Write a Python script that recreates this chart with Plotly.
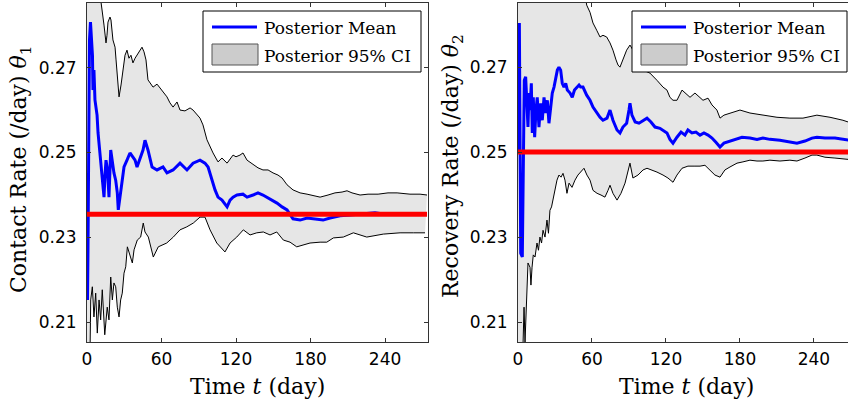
import plotly.graph_objects as go

# ---------------- data ----------------
TICK_DAYS = [0, 60, 120, 180, 240]
TICK_RATES = [0.21, 0.23, 0.25, 0.27]
TRUE_THETA1 = 0.2355
TRUE_THETA2 = 0.25

# Left panel: contact rate theta_1
L_UP_DAY = [0, 6.4, 10.5, 11.3, 13.7, 15.3, 16.1, 16.9, 18.5, 19.3, 20.9, 22.6, 23.4, 25.0, 25.8, 27.4,
            29.0, 30.6, 32.2, 33.8, 35.4, 37.0, 38.7, 40.3, 42.7, 44.3, 45.9, 47.5, 49.1, 53.2, 56.4,
            58.8, 61.2, 64.4, 66.8, 69.3, 72.5, 74.9, 78.9, 83.0, 85.4, 88.6, 91.0, 93.4, 96.6, 101.5,
            105.5, 108.7, 112.8, 117.6, 120.0, 123.2, 125.6, 128.9, 133.7, 137.7, 141.7, 145.8, 149.8,
            153.8, 157.1, 161.1, 165.9, 171.6, 177.2, 183.6, 187.7, 194.1, 199.7, 205.4, 209.4, 213.4,
            219.9, 226.3, 234.4, 242.4, 249.7, 260.1, 268.2, 273.8]
L_UP_VAL = [0.34, 0.33, 0.30, 0.2854, 0.2800, 0.2758, 0.2776, 0.2807, 0.2819, 0.2812, 0.2765, 0.2748,
            0.2718, 0.2647, 0.2631, 0.2659, 0.2689, 0.2729, 0.2741, 0.2722, 0.2729, 0.2711, 0.2722,
            0.2729, 0.2741, 0.2748, 0.2737, 0.2718, 0.2671, 0.2654, 0.2661, 0.2652, 0.2642, 0.2631,
            0.2617, 0.2607, 0.2619, 0.2600, 0.2598, 0.2605, 0.2600, 0.2588, 0.2581, 0.2565, 0.2530,
            0.2499, 0.2478, 0.2487, 0.2475, 0.2494, 0.2490, 0.2494, 0.2499, 0.2482, 0.2471, 0.2464,
            0.2459, 0.2459, 0.2452, 0.2447, 0.2440, 0.2424, 0.2412, 0.2405, 0.2402, 0.2398, 0.2395,
            0.2400, 0.2405, 0.2407, 0.2410, 0.2405, 0.2400, 0.2402, 0.2402, 0.2405, 0.2405, 0.2402,
            0.2402, 0.2400]

L_LO_DAY = [0, 1.6, 3.0, 4.3, 5.6, 7.0, 8.3, 9.7, 11.0, 12.3, 13.7, 14.3, 16.3, 17.7, 19.1, 20.4, 21.7,
            23.1, 24.4, 25.8, 27.1, 28.4, 29.8, 31.2, 32.5, 35.2, 36.5, 37.9, 40.5, 43.2, 45.3, 46.7,
            49.4, 53.4, 57.4, 64.2, 69.5, 74.9, 80.3, 85.6, 91.0, 95.0, 99.1, 104.5, 111.1, 115.2,
            120.6, 125.9, 131.3, 136.7, 142.0, 147.4, 152.8, 158.1, 163.5, 168.9, 174.2, 179.6, 187.7,
            193.1, 198.4, 206.4, 214.5, 225.3, 238.6, 252.1, 262.8, 272.2]
L_LO_VAL = [0.15, 0.19, 0.2153, 0.2184, 0.2113, 0.2169, 0.2075, 0.2153, 0.2106, 0.2177, 0.2082, 0.2071,
            0.2136, 0.2106, 0.2207, 0.2153, 0.2193, 0.2184, 0.2136, 0.2113, 0.2153, 0.2169, 0.2216,
            0.2231, 0.2278, 0.2254, 0.2240, 0.2271, 0.2294, 0.2301, 0.2334, 0.2313, 0.2301, 0.2254,
            0.2278, 0.2287, 0.2301, 0.2318, 0.2325, 0.2334, 0.2348, 0.2348, 0.2318, 0.2287, 0.2266,
            0.2287, 0.2301, 0.2318, 0.2306, 0.2311, 0.2313, 0.2306, 0.2313, 0.2294, 0.2289, 0.2278,
            0.2282, 0.2287, 0.2289, 0.2289, 0.2299, 0.2301, 0.2311, 0.2301, 0.2308, 0.2311, 0.2311,
            0.2311]

L_MEAN_DAY = [0, 0.4, 0.8, 1.2, 2.0, 2.8, 3.6, 4.4, 4.8, 5.6, 6.4, 7.2, 8.1, 8.9, 10.5, 11.3, 12.1, 13.7,
              14.5, 15.3, 16.5, 17.7, 19.1, 20.1, 21.7, 23.1, 24.4, 25.2, 27.1, 28.4, 29.8, 32.2, 34.6,
              37.0, 38.7, 40.3, 42.7, 45.1, 46.7, 49.1, 52.4, 56.4, 61.2, 64.4, 69.3, 74.9, 80.5, 85.4,
              91.0, 95.0, 97.5, 100.7, 103.1, 105.5, 108.7, 112.8, 115.2, 117.6, 120.8, 125.6, 128.9,
              133.7, 137.7, 141.7, 145.0, 149.0, 153.0, 157.1, 161.1, 165.9, 171.6, 177.2, 183.6, 190.1,
              195.7, 203.8, 211.8, 219.9, 226.3, 231.9, 240.0, 252.1, 264.2, 273.8]
L_MEAN_VAL = [0.2260, 0.2153, 0.2270, 0.2577, 0.2765, 0.2807, 0.2777, 0.2729, 0.2647, 0.2694, 0.2624,
              0.2607, 0.2588, 0.2546, 0.2499, 0.2471, 0.2435, 0.2395, 0.2447, 0.2482, 0.2459, 0.2395,
              0.2506, 0.2482, 0.2452, 0.2435, 0.2405, 0.2365, 0.2412, 0.2442, 0.2466, 0.2482, 0.2499,
              0.2489, 0.2482, 0.2466, 0.2489, 0.2506, 0.2529, 0.2506, 0.2466, 0.2459, 0.2466, 0.2452,
              0.2459, 0.2475, 0.2459, 0.2475, 0.2482, 0.2475, 0.2466, 0.2435, 0.2412, 0.2395, 0.2388,
              0.2372, 0.2388, 0.2395, 0.2400, 0.2402, 0.2395, 0.2400, 0.2405, 0.2400, 0.2395, 0.2388,
              0.2381, 0.2372, 0.2365, 0.2344, 0.2341, 0.2346, 0.2344, 0.2341, 0.2346, 0.2351, 0.2353,
              0.2355, 0.2355, 0.2358, 0.2355, 0.2355, 0.2355, 0.2355]

# Right panel: recovery rate theta_2
R_UP_DAY = [0, 17.8, 34.1, 50.3, 55.7, 58.4, 60.8, 63.8, 66.5, 68.9, 71.9, 74.6, 77.0, 79.5, 81.1, 82.7,
            84.3, 88.1, 90.8, 95.7, 101.4, 107.0, 112.7, 117.6, 120.8, 123.2, 125.7, 128.9, 133.0,
            137.0, 139.5, 143.5, 147.6, 150.0, 154.1, 157.3, 161.3, 163.8, 167.0, 171.9, 180.0, 188.1,
            198.6, 210.0, 220.5, 231.1, 242.4, 253.0, 263.5, 267.6, 274.0]
R_UP_VAL = [0.40, 0.36, 0.32, 0.295, 0.2846, 0.2829, 0.2804, 0.2787, 0.2771, 0.2775, 0.2771, 0.2757,
            0.2740, 0.2717, 0.2705, 0.2700, 0.2712, 0.2740, 0.2752, 0.2728, 0.2693, 0.2686, 0.2669,
            0.2653, 0.2646, 0.2629, 0.2622, 0.2622, 0.2646, 0.2634, 0.2629, 0.2639, 0.2627, 0.2622,
            0.2627, 0.2611, 0.2599, 0.2580, 0.2587, 0.2592, 0.2599, 0.2592, 0.2587, 0.2582, 0.2580,
            0.2580, 0.2587, 0.2582, 0.2575, 0.2571, 0.2570]

R_LO_DAY = [0, 2.4, 4.1, 4.9, 5.7, 7.3, 8.1, 9.7, 10.5, 11.4, 12.4, 13.8, 15.4, 16.6, 17.8, 19.1, 20.3,
            21.9, 23.5, 24.7, 25.9, 27.2, 28.4, 30.0, 31.6, 33.2, 34.9, 36.5, 38.1, 39.7, 41.4, 43.8,
            46.2, 48.6, 51.1, 53.5, 55.9, 58.4, 60.8, 64.1, 67.3, 70.5, 73.0, 74.6, 77.0, 80.3, 83.5,
            86.8, 90.8, 93.2, 97.3, 101.4, 104.6, 108.6, 112.7, 117.6, 121.6, 125.7, 128.9, 133.0,
            137.8, 143.5, 147.6, 151.6, 155.7, 159.7, 163.8, 167.8, 171.9, 177.6, 182.4, 188.1, 193.8,
            198.6, 204.3, 212.4, 220.5, 226.2, 232.7, 238.4, 242.4, 248.9, 257.0, 263.5, 267.6, 274.0]
R_LO_VAL = [0.10, 0.15, 0.2050, 0.2135, 0.2053, 0.2192, 0.2239, 0.2229, 0.2187, 0.2229, 0.2258, 0.2253,
            0.2286, 0.2269, 0.2300, 0.2286, 0.2316, 0.2300, 0.2340, 0.2309, 0.2363, 0.2371, 0.2387,
            0.2410, 0.2434, 0.2446, 0.2441, 0.2450, 0.2434, 0.2403, 0.2427, 0.2417, 0.2434, 0.2446,
            0.2453, 0.2462, 0.2446, 0.2434, 0.2410, 0.2403, 0.2399, 0.2394, 0.2410, 0.2422, 0.2403,
            0.2387, 0.2403, 0.2427, 0.2474, 0.2439, 0.2446, 0.2458, 0.2462, 0.2458, 0.2453, 0.2446,
            0.2439, 0.2429, 0.2446, 0.2462, 0.2467, 0.2467, 0.2467, 0.2469, 0.2458, 0.2446, 0.2441,
            0.2458, 0.2465, 0.2474, 0.2477, 0.2481, 0.2479, 0.2479, 0.2481, 0.2479, 0.2481, 0.2479,
            0.2486, 0.2493, 0.2493, 0.2488, 0.2486, 0.2484, 0.2481, 0.2481]

R_MEAN_DAY = [0, 0.4, 1.1, 1.6, 2.2, 3.5, 4.3, 5.1, 6.2, 7.3, 8.1, 8.9, 9.7, 10.8, 11.6, 12.4, 13.5, 14.6,
              15.6, 17.0, 18.4, 19.7, 21.1, 22.5, 23.8, 25.1, 26.5, 27.8, 29.2, 30.6, 31.9, 33.2, 34.6,
              35.9, 37.3, 38.7, 40.0, 42.2, 44.0, 45.8, 47.6, 49.5, 50.8, 52.7, 55.7, 58.4, 60.8, 63.8,
              66.5, 68.9, 72.2, 74.6, 77.0, 80.3, 82.7, 85.1, 88.1, 90.0, 90.8, 92.4, 95.0, 98.1, 101.4,
              104.6, 107.8, 111.1, 115.1, 118.4, 120.8, 123.2, 125.7, 128.9, 132.2, 135.4, 137.8, 141.1,
              144.3, 147.6, 150.8, 154.1, 157.3, 160.5, 163.8, 167.0, 171.9, 176.8, 181.6, 188.1, 193.8,
              198.6, 204.3, 212.4, 220.5, 226.2, 232.7, 238.4, 242.4, 248.9, 257.0, 263.5, 267.6, 274.0]
R_MEAN_VAL = [0.2500, 0.2505, 0.2804, 0.2622, 0.2262, 0.2253, 0.2481, 0.2669, 0.2677, 0.2622, 0.2559,
              0.2639, 0.2599, 0.2662, 0.2545, 0.2629, 0.2535, 0.2599, 0.2629, 0.2559, 0.2615, 0.2575,
              0.2629, 0.2592, 0.2622, 0.2568, 0.2606, 0.2639, 0.2653, 0.2677, 0.2693, 0.2700, 0.2693,
              0.2662, 0.2653, 0.2662, 0.2646, 0.2639, 0.2629, 0.2646, 0.2653, 0.2658, 0.2653, 0.2653,
              0.2634, 0.2622, 0.2606, 0.2592, 0.2582, 0.2575, 0.2580, 0.2599, 0.2575, 0.2552, 0.2545,
              0.2559, 0.2568, 0.2599, 0.2615, 0.2587, 0.2571, 0.2568, 0.2575, 0.2580, 0.2571, 0.2559,
              0.2556, 0.2549, 0.2545, 0.2530, 0.2521, 0.2535, 0.2547, 0.2540, 0.2552, 0.2545, 0.2547,
              0.2540, 0.2545, 0.2540, 0.2533, 0.2523, 0.2512, 0.2521, 0.2526, 0.2530, 0.2535, 0.2533,
              0.2530, 0.2533, 0.2530, 0.2528, 0.2524, 0.2521, 0.2526, 0.2533, 0.2535, 0.2533, 0.2533,
              0.2530, 0.2528, 0.2526]

LEGEND_LABELS = ["Posterior Mean", "Posterior 95% CI"]
Y_TITLES = ["Contact Rate (/day) <i>θ</i><sub>1</sub>", "Recovery Rate (/day) <i>θ</i><sub>2</sub>"]
X_TITLE = "Time <i>t</i> (day)"

# ---------------- styling / layout ----------------
W, H = 848, 402
def fx(p):
    return p / W
def fy(p):
    return 1 - p / H

SERIF = "DejaVu Serif"
SANS = "DejaVu Sans"
FILL = "#e6e6e6"
AXCOL = "#333333"

fig = go.Figure()

panels = [
    ("x", "y", L_LO_DAY, L_LO_VAL, L_UP_DAY, L_UP_VAL, L_MEAN_DAY, L_MEAN_VAL, TRUE_THETA1),
    ("x2", "y2", R_LO_DAY, R_LO_VAL, R_UP_DAY, R_UP_VAL, R_MEAN_DAY, R_MEAN_VAL, TRUE_THETA2),
]
for xa, ya, lod, lov, upd, upv, md, mv, truth in panels:
    fig.add_trace(go.Scatter(x=lod, y=lov, mode="lines", line=dict(color="black", width=1),
                             xaxis=xa, yaxis=ya, showlegend=False, hoverinfo="skip"))
    fig.add_trace(go.Scatter(x=upd, y=upv, mode="lines", line=dict(color="black", width=1),
                             fill="tonexty", fillcolor=FILL,
                             xaxis=xa, yaxis=ya, showlegend=False, hoverinfo="skip"))
    fig.add_trace(go.Scatter(x=md, y=mv, mode="lines", line=dict(color="#0000ff", width=3),
                             xaxis=xa, yaxis=ya, showlegend=False, name=LEGEND_LABELS[0]))
    fig.add_trace(go.Scatter(x=[md[0], md[-1]], y=[truth, truth], mode="lines",
                             line=dict(color="#ff0000", width=5),
                             xaxis=xa, yaxis=ya, showlegend=False, hoverinfo="skip"))

ydom = [fy(342), fy(3)]
common_x = dict(tickvals=TICK_DAYS, ticks="inside", ticklen=4, tickcolor=AXCOL, showline=True,
                linecolor=AXCOL, linewidth=1, showgrid=False, zeroline=False,
                tickfont=dict(family=SANS, size=17, color="black"), automargin=False,
                ticklabelstandoff=2)
common_y = dict(tickvals=TICK_RATES, ticks="inside", ticklen=4, tickcolor=AXCOL, showline=True,
                linecolor=AXCOL, linewidth=1, showgrid=False, zeroline=False,
                tickfont=dict(family=SANS, size=17, color="black"), automargin=False,
                ticklabelstandoff=6, domain=ydom)

fig.update_layout(
    width=W, height=H, margin=dict(l=0, r=0, t=0, b=0),
    paper_bgcolor="white", plot_bgcolor="white", showlegend=False,
    xaxis=dict(domain=[fx(87), fx(428)], range=[0, 274.6], anchor="y", mirror="ticks", **common_x),
    yaxis=dict(range=[0.2054, 0.2852], anchor="x", mirror="ticks", **common_y),
    xaxis2=dict(domain=[fx(518), 1.0], range=[0, 267.6], anchor="y2", mirror="ticks", **common_x),
    yaxis2=dict(range=[0.2053, 0.2851], anchor="x2", mirror=False, **common_y),
)

shapes = []
annotations = []
# manual legends (box, line sample, patch, texts) for each panel
for (x0, x1, line_x0) in [(203, 421, 212), (632, 847, 641)]:
    shapes.append(dict(type="rect", xref="paper", yref="paper", x0=fx(x0), x1=fx(x1), y0=fy(72), y1=fy(11),
                       line=dict(color="black", width=1), fillcolor="white", layer="above"))
    shapes.append(dict(type="line", xref="paper", yref="paper", x0=fx(line_x0), x1=fx(line_x0 + 45),
                       y0=fy(27), y1=fy(27), line=dict(color="#0000ff", width=3), layer="above"))
    shapes.append(dict(type="rect", xref="paper", yref="paper", x0=fx(line_x0), x1=fx(line_x0 + 46),
                       y0=fy(65), y1=fy(44), line=dict(color="#555555", width=1), fillcolor="#cccccc",
                       layer="above"))
    for lab, yy in zip(LEGEND_LABELS, [28, 56]):
        annotations.append(dict(xref="paper", yref="paper", x=fx(line_x0 + 50), y=fy(yy), text=lab,
                                showarrow=False, xanchor="left", yanchor="middle",
                                font=dict(family=SERIF, size=17, color="black")))

# axis titles
for txt, xc, yc in [(Y_TITLES[0], 21, 169), (Y_TITLES[1], 452, 166)]:
    annotations.append(dict(xref="paper", yref="paper", x=fx(xc), y=fy(yc), text=txt, textangle=-90,
                            showarrow=False, xanchor="center", yanchor="middle",
                            font=dict(family=SERIF, size=22, color="black")))
for xc in [257, 686]:
    annotations.append(dict(xref="paper", yref="paper", x=fx(xc), y=fy(386), text=X_TITLE,
                            showarrow=False, xanchor="center", yanchor="middle",
                            font=dict(family=SERIF, size=22, color="black")))

fig.update_layout(shapes=shapes, annotations=annotations)
fig.write_html("out.html")
